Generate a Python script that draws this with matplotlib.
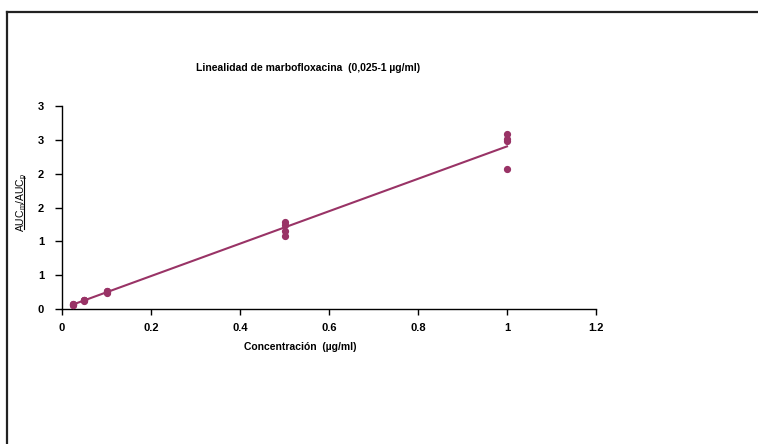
import numpy as np
import matplotlib
matplotlib.use('Agg')
import matplotlib.pyplot as plt
from matplotlib.lines import Line2D

plt.rcParams['font.family'] = ['Liberation Sans', 'DejaVu Sans']
plt.rcParams['mathtext.fontset'] = 'custom'
plt.rcParams['mathtext.rm'] = 'Liberation Sans'
plt.rcParams['mathtext.it'] = 'Liberation Sans'

# Concentraciones (µg/ml) y cociente de áreas AUCm/AUCp (4 réplicas)
conc = [0.025, 0.025, 0.025, 0.025,
        0.05, 0.05, 0.05, 0.05,
        0.1, 0.1, 0.1, 0.1,
        0.5, 0.5, 0.5, 0.5,
        1.0, 1.0, 1.0, 1.0]
ratio = [0.07, 0.06, 0.07, 0.06,
         0.14, 0.12, 0.13, 0.14,
         0.26, 0.24, 0.25, 0.26,
         1.29, 1.24, 1.15, 1.08,
         2.58, 2.51, 2.48, 2.07]

xticks = [0, 0.2, 0.4, 0.6, 0.8, 1, 1.2]
xtick_labels = ['0', '0.2', '0.4', '0.6', '0.8', '1', '1.2']
yticks = [0, 0.5, 1, 1.5, 2, 2.5, 3]
ytick_labels = ['0', '1', '1', '2', '2', '3', '3']

color = '#993366'

W, H = 758, 444
fig = plt.figure(figsize=(W / 100, H / 100), dpi=100)
ax = fig.add_axes([62 / W, (H - 309) / H, (596 - 62) / W, (309 - 106) / H])

# recta de regresión por mínimos cuadrados
slope, intercept = np.polyfit(conc, ratio, 1)
xfit = np.array([min(conc), max(conc)])
ax.plot(xfit, slope * xfit + intercept, color=color, lw=1.5, zorder=2)
ax.plot(conc, ratio, 'o', color=color, ms=4.2, mec=color, zorder=3)

ax.set_xlim(0, 1.2)
ax.set_ylim(0, 3)
ax.set_xticks(xticks)
ax.set_xticklabels(xtick_labels, fontsize=8, fontweight='bold')
ax.set_yticks(yticks)
ax.set_yticklabels(ytick_labels, fontsize=8, fontweight='bold')
ax.tick_params(axis='x', direction='out', length=4, width=1, pad=6)
ax.tick_params(axis='y', direction='out', length=5, width=1, pad=8)
for s in ['top', 'right']:
    ax.spines[s].set_visible(False)
for s in ['left', 'bottom']:
    ax.spines[s].set_linewidth(1)

fig.text(308 / W, 1 - 68 / H, 'Linealidad de marbofloxacina  (0,025-1 µg/ml)',
         ha='center', va='center', fontsize=7.5, fontweight='bold')
fig.text(300 / W, 1 - 347 / H, 'Concentración  (µg/ml)',
         ha='center', va='center', fontsize=7.5, fontweight='bold')
fig.text(23 / W, 1 - 202 / H, r'$\mathrm{AUC_m /AUC_p}$',
         ha='center', va='center', rotation=90, fontsize=7.5)
# subrayado de la etiqueta del eje y
fig.add_artist(Line2D([24 / W, 24 / W], [1 - 229 / H, 1 - 176 / H], color='black', lw=0.8))

# marco del gráfico
fig.add_artist(Line2D([6.5 / W, 6.5 / W], [0, 1 - 12.5 / H], color='#222222', lw=1.6))
fig.add_artist(Line2D([6.5 / W, 1], [1 - 12.5 / H, 1 - 12.5 / H], color='#222222', lw=1.6))

fig.savefig('out.png', dpi=100)
